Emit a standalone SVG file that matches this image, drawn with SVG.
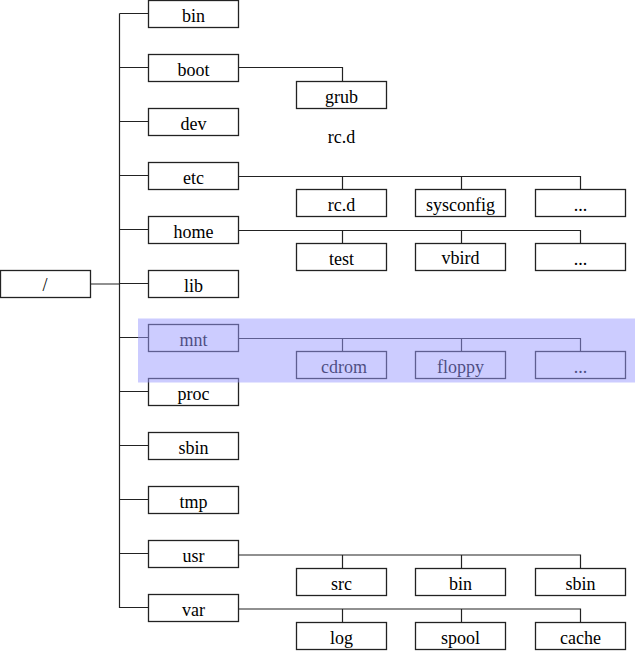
<svg xmlns="http://www.w3.org/2000/svg" width="635" height="651" viewBox="0 0 635 651">
<style>
.b{fill:#fff;stroke:#222;stroke-width:1.3}
.t{font-family:'Liberation Serif','Times New Roman',serif;font-size:18px;fill:#000;text-anchor:middle}
.c{fill:none;stroke:#222;stroke-width:1.2}
</style>
<rect width="635" height="651" fill="#fff"/>
<g id="connectors">
<path class="c" d="M90.5 284H119.5M119.5 13.5V608M119.5 13.5H148.5M119.5 67.5H148.5M119.5 121.5H148.5M119.5 175.5H148.5M119.5 229.5H148.5M119.5 283.5H148.5M119.5 337.5H148.5M119.5 391.5H148.5M119.5 445.5H148.5M119.5 499.5H148.5M119.5 553.5H148.5M119.5 607.5H148.5"/>
<path class="c" d="M238.5 67.5H342.5V81"/>
<path class="c" d="M238.5 176.5H580.5V189M342.5 176.5V189M461.5 176.5V189"/>
<path class="c" d="M238.5 230.5H580.5V243M342.5 230.5V243M461.5 230.5V243"/>
<path class="c" d="M238.5 338.5H580.5V351M342.5 338.5V351M461.5 338.5V351"/>
<path class="c" d="M238.5 555H580.5V568M342.5 555V568M461.5 555V568"/>
<path class="c" d="M238.5 609H580.5V622M342.5 609V622M461.5 609V622"/>
</g>
<g font-family="Liberation Serif, Times New Roman, serif">
<g id="root"><rect class="b" x="0.5" y="270.5" width="90" height="27"/><text class="t" x="45" y="291">/</text></g>
<g id="bin"><rect class="b" x="148.5" y="0.5" width="90" height="27"/><text class="t" x="193.5" y="21.5">bin</text></g>
<g id="boot"><rect class="b" x="148.5" y="54.5" width="90" height="27"/><text class="t" x="193.5" y="75.5">boot</text></g>
<g id="dev"><rect class="b" x="148.5" y="108.5" width="90" height="27"/><text class="t" x="193.5" y="129.5">dev</text></g>
<g id="etc"><rect class="b" x="148.5" y="162.5" width="90" height="27"/><text class="t" x="193.5" y="183.5">etc</text></g>
<g id="home"><rect class="b" x="148.5" y="216.5" width="90" height="27"/><text class="t" x="193.5" y="237.5">home</text></g>
<g id="lib"><rect class="b" x="148.5" y="270.5" width="90" height="27"/><text class="t" x="193.5" y="291.5">lib</text></g>
<g id="mnt"><rect class="b" x="148.5" y="324.5" width="90" height="27"/><text class="t" x="193.5" y="345.5">mnt</text></g>
<g id="proc"><rect class="b" x="148.5" y="378.5" width="90" height="27"/><text class="t" x="193.5" y="399.5">proc</text></g>
<g id="sbin"><rect class="b" x="148.5" y="432.5" width="90" height="27"/><text class="t" x="193.5" y="453.5">sbin</text></g>
<g id="tmp"><rect class="b" x="148.5" y="486.5" width="90" height="27"/><text class="t" x="193.5" y="507.5">tmp</text></g>
<g id="usr"><rect class="b" x="148.5" y="540.5" width="90" height="27"/><text class="t" x="193.5" y="561.5">usr</text></g>
<g id="var"><rect class="b" x="148.5" y="594.5" width="90" height="27"/><text class="t" x="193.5" y="615.5">var</text></g>
<g id="grub"><rect class="b" x="296.5" y="81.5" width="90" height="27"/><text class="t" x="341.5" y="102.5">grub</text></g>
<g id="rcd-label"><text class="t" x="341.5" y="142.5">rc.d</text></g>
<g id="rcd"><rect class="b" x="296.5" y="189.5" width="90" height="27"/><text class="t" x="341.5" y="210.5">rc.d</text></g>
<g id="sysconfig"><rect class="b" x="415.5" y="189.5" width="90" height="27"/><text class="t" x="460.5" y="210.5">sysconfig</text></g>
<g id="etc-more"><rect class="b" x="535.5" y="189.5" width="90" height="27"/><text class="t" x="580.5" y="210.5">...</text></g>
<g id="test"><rect class="b" x="296.5" y="243.5" width="90" height="27"/><text class="t" x="341.5" y="265">test</text></g>
<g id="vbird"><rect class="b" x="415.5" y="243.5" width="90" height="27"/><text class="t" x="460.5" y="264">vbird</text></g>
<g id="home-more"><rect class="b" x="535.5" y="243.5" width="90" height="27"/><text class="t" x="580.5" y="264.5">...</text></g>
<g id="cdrom"><rect class="b" x="296.5" y="351.5" width="90" height="27"/><text class="t" x="344" y="372.5">cdrom</text></g>
<g id="floppy"><rect class="b" x="415.5" y="351.5" width="90" height="27"/><text class="t" x="460.5" y="372.5">floppy</text></g>
<g id="mnt-more"><rect class="b" x="535.5" y="351.5" width="90" height="27"/><text class="t" x="580.5" y="372.5">...</text></g>
<g id="src"><rect class="b" x="296.5" y="568.5" width="90" height="27"/><text class="t" x="341.5" y="589.5">src</text></g>
<g id="usr-bin"><rect class="b" x="415.5" y="568.5" width="90" height="27"/><text class="t" x="460.5" y="589.5">bin</text></g>
<g id="usr-sbin"><rect class="b" x="535.5" y="568.5" width="90" height="27"/><text class="t" x="580.5" y="589.5">sbin</text></g>
<g id="log"><rect class="b" x="296.5" y="622.5" width="90" height="27"/><text class="t" x="341.5" y="643.5">log</text></g>
<g id="spool"><rect class="b" x="415.5" y="622.5" width="90" height="27"/><text class="t" x="460.5" y="643.5">spool</text></g>
<g id="cache"><rect class="b" x="535.5" y="622.5" width="90" height="27"/><text class="t" x="580.5" y="643.5">cache</text></g>
</g>
<rect id="highlight" x="138" y="318.5" width="497" height="64" fill="#9999ff" fill-opacity="0.5"/>
</svg>
